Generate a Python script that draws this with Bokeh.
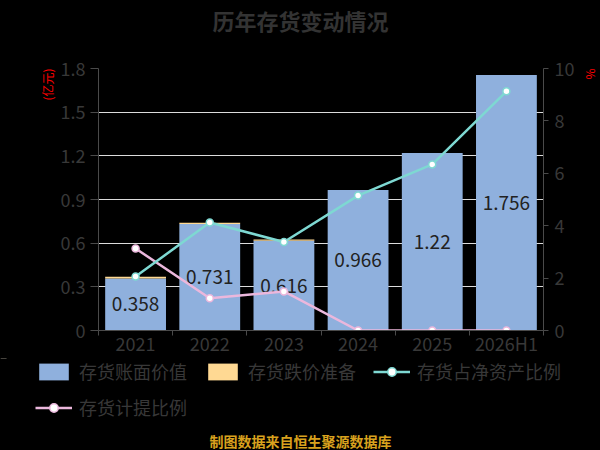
from bokeh.plotting import figure
from bokeh.models import (Range1d, LinearAxis, FixedTicker, Title, Legend,
                          LegendItem, ColumnDataSource, Label)
from bokeh.core.properties import value
from bokeh.embed import file_html
from bokeh.resources import INLINE

categories = ["2021", "2022", "2023", "2024", "2025", "2026H1"]
book_value = [0.358, 0.731, 0.616, 0.966, 1.22, 1.756]          # 亿元
provision = [0.0116, 0.0091, 0.0093, 0.0, 0.0, 0.0]             # 亿元
inv_to_net_assets = [2.06, 4.12, 3.38, 5.15, 6.34, 9.13]        # %
provision_ratio = [3.13, 1.23, 1.49, 0.0, 0.0, 0.0]             # %
bar_labels = ["0.358", "0.731", "0.616", "0.966", "1.22", "1.756"]
left_ticks = [0, 0.3, 0.6, 0.9, 1.2, 1.5, 1.8]
left_tick_labels = ["0", "0.3", "0.6", "0.9", "1.2", "1.5", "1.8"]
right_ticks = [0, 2, 4, 6, 8, 10]
series_names = ["存货账面价值", "存货跌价准备", "存货占净资产比例", "存货计提比例"]

FONT = "Noto Sans CJK SC"
TXT = "#383838"
AX = "#4a4a4a"
BLUE = "#8fb0dd"
YELLOW = "#ffd993"
CYAN = "#7ed8d2"
PINK = "#ebb7dc"
BG = "black"
STY = {"background-color": "black"}

W, H = 600, 450
TOP_H = 52                 # title strip
FL, FW, FH = 98, 445, 262
FR = W - FL - FW
FT = 16
FB = 28
MAIN_H = FT + FH + FB
LEG_TOP = TOP_H + MAIN_H
LEG_H = H - LEG_TOP
NCAT = len(categories)
YMAX = 1.8


def strip(height, y_top):
    # full-width frame, data units = page pixels
    f = figure(frame_width=W, frame_height=height,
               min_border_left=0, min_border_right=0,
               min_border_top=0, min_border_bottom=0,
               x_range=Range1d(0, W),
               y_range=Range1d(y_top + height, y_top),
               x_axis_location=None, y_axis_location=None,
               output_backend="svg", toolbar_location=None,
               background_fill_color=BG, border_fill_color=BG,
               outline_line_color=None, styles=STY)
    f.grid.visible = False
    return f


# ---- title strip
tf = strip(TOP_H, 0)
tf.add_layout(Label(x=300, y=19, text="历年存货变动情况",
                    text_align="center", text_baseline="middle",
                    text_font=FONT, text_font_size="22px",
                    text_font_style="bold", text_color="#333333"))

# ---- main chart
xs = [i + 0.5 for i in range(NCAT)]
src = ColumnDataSource(dict(
    x=xs, cat=categories, book=book_value, prov=provision,
    ly=[b / 2 for b in book_value], lab=bar_labels,
    inv=inv_to_net_assets, pr=provision_ratio))

p = figure(frame_width=FW, frame_height=FH,
           min_border_left=FL, min_border_right=FR,
           min_border_top=FT, min_border_bottom=FB,
           x_range=Range1d(0, NCAT), y_range=Range1d(0, YMAX),
           output_backend="svg", toolbar_location=None,
           background_fill_color=BG, border_fill_color=BG,
           outline_line_color=None, styles=STY)
p.extra_y_ranges = {"pct": Range1d(0, 10)}

xa = p.xaxis[0]
xa.ticker = FixedTicker(ticks=xs, minor_ticks=list(range(NCAT + 1)))
xa.major_label_overrides = {x: c for x, c in zip(xs, categories)}
xa.major_tick_line_color = None
xa.minor_tick_line_color = AX
xa.minor_tick_in = 0
xa.minor_tick_out = 5
xa.axis_line_color = AX
xa.major_label_text_color = TXT
xa.major_label_text_font = FONT
xa.major_label_text_font_size = "18px"
xa.major_label_standoff = -7

ya = p.yaxis[0]
ya.ticker = FixedTicker(ticks=left_ticks)
ya.major_label_overrides = {t: s for t, s in zip(left_ticks, left_tick_labels)}
ya.minor_tick_line_color = None
ya.major_tick_in = 0
ya.major_tick_out = 8
ya.major_tick_line_color = AX
ya.axis_line_color = AX
ya.major_label_text_color = TXT
ya.major_label_text_font = FONT
ya.major_label_text_font_size = "18px"
ya.major_label_standoff = 5

ra = LinearAxis(y_range_name="pct", ticker=FixedTicker(ticks=right_ticks))
ra.minor_tick_line_color = None
ra.major_tick_in = 0
ra.major_tick_out = 5
ra.major_tick_line_color = AX
ra.axis_line_color = AX
ra.major_label_text_color = TXT
ra.major_label_text_font = FONT
ra.major_label_text_font_size = "18px"
ra.major_label_standoff = 6
p.add_layout(ra, "right")

p.xgrid.visible = False
p.ygrid.ticker = FixedTicker(ticks=left_ticks)
p.ygrid.grid_line_color = "#dcdcdc"
p.ygrid.grid_line_width = 1

bars = p.vbar_stack(["book", "prov"], x="x", width=0.82, source=src,
                    fill_color=[BLUE, YELLOW], line_color=None)

p.text(x="x", y="ly", text="lab", source=src, text_align="center",
       text_baseline="middle", text_font=value(FONT), text_font_size="19px",
       text_color="#222222")

pl = p.line(x="x", y="pr", source=src, y_range_name="pct", line_color=PINK,
            line_width=2.5)
ps = p.scatter(x="x", y="pr", source=src, y_range_name="pct", size=7,
               fill_color="white", line_color=PINK, line_width=1.5)
cl = p.line(x="x", y="inv", source=src, y_range_name="pct", line_color=CYAN,
            line_width=2.5)
cs = p.scatter(x="x", y="inv", source=src, y_range_name="pct", size=7,
               fill_color="white", line_color=CYAN, line_width=1.5)

p.add_layout(Title(text="(亿元)", align="right", standoff=4,
                   text_font=FONT, text_font_size="12px",
                   text_font_style="normal", text_color="red"), "left")
p.add_layout(Title(text="%", align="left",
                   text_font=FONT, text_font_size="12px",
                   text_font_style="normal", text_color="red"), "right")

# ---- legend + footer strip (legend keys mirror the chart's renderers;
#      their data lie outside this strip's ranges, so only the keys show)
lf = strip(LEG_H, LEG_TOP)
kb = lf.vbar(x="x", top="book", width=0.82, source=src, fill_color=BLUE,
             line_color=None)
kp = lf.vbar(x="x", top="prov", width=0.82, source=src, fill_color=YELLOW,
             line_color=None)
kcl = lf.line(x="x", y="inv", source=src, line_color=CYAN, line_width=2.5)
kcs = lf.scatter(x="x", y="inv", source=src, size=14, fill_color="white",
                 line_color=CYAN, line_width=1.5)
kpl = lf.line(x="x", y="pr", source=src, line_color=PINK, line_width=2.5)
kps = lf.scatter(x="x", y="pr", source=src, size=14, fill_color="white",
                 line_color=PINK, line_width=1.5)

ROW_H, ROW_GAP = 26, 10
legend = Legend(items=[
    LegendItem(label=series_names[0], renderers=[kb]),
    LegendItem(label=series_names[1], renderers=[kp]),
    LegendItem(label=series_names[2], renderers=[kcl, kcs]),
    LegendItem(label=series_names[3], renderers=[kpl, kps]),
], location=(35, LEG_H - (2 * ROW_H + ROW_GAP)), orientation="horizontal",
    ncols=3, glyph_width=37, glyph_height=21, label_standoff=7,
    spacing=ROW_GAP, label_width=115, label_height=ROW_H,
    padding=0, margin=0, border_line_color=None, background_fill_alpha=0,
    label_text_font=FONT, label_text_font_size="18px", label_text_color=TXT)
lf.add_layout(legend)

lf.add_layout(Label(x=300, y=440, text="制图数据来自恒生聚源数据库",
                    text_align="center", text_baseline="middle",
                    text_font=FONT, text_font_size="14px",
                    text_font_style="bold", text_color="#d9a21e"))

open("out.html", "w").write(file_html([tf, p, lf], INLINE))
